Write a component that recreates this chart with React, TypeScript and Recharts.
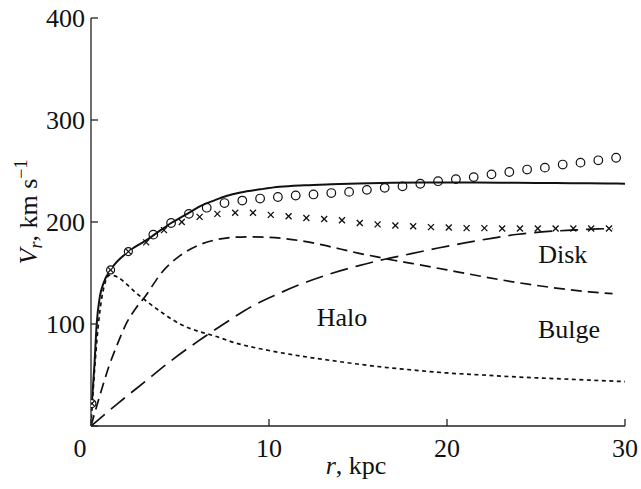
import React from 'react';
import { ComposedChart, Line, Scatter, XAxis, YAxis, ReferenceDot } from 'recharts';

// total model curve (solid)
const totalR = [0.05, 0.2, 0.32, 0.5, 0.7, 1.1, 2.1, 3.1, 4, 4.5, 5, 5.6, 6.2, 6.9, 7.6, 8.4, 9.5, 10.6, 12, 13.5, 15, 17, 19, 21, 23, 25, 27, 29, 30];
const totalV = [22, 62, 100, 127, 140, 153, 171, 182, 193, 199, 204, 210, 216, 221, 225.5, 229, 232, 234.5, 236, 237, 237.8, 238.5, 238.8, 238.8, 238.6, 238.3, 238, 237.8, 237.6];

// halo (long dash)
const haloR = [0, 1.5, 3, 4.5, 6, 7.5, 9, 10.5, 12, 13.5, 15, 16.5, 18, 19.5, 21, 22.5, 24, 25.5, 27, 28.5, 29.3];
const haloV = [0, 22, 43, 64, 83, 100.5, 117, 129.5, 140.5, 149.5, 157, 163.5, 169, 174.5, 179.5, 184, 188, 190.5, 192, 193.2, 193.6];

// disk (medium dash)
const diskR = [0, 0.5, 1, 1.5, 2, 2.5, 3, 4, 5, 6, 7, 8, 9, 10, 11, 12, 13, 14, 15, 16, 17, 18, 20, 22, 24, 26, 28, 29.3];
const diskV = [0, 30, 58, 81, 101, 115, 126, 151, 167, 177, 182.5, 185, 185.5, 185, 183.5, 181, 177.5, 173.5, 169.5, 166, 162.5, 159.5, 153, 146.5, 140.5, 135.5, 131.5, 129.8];

// bulge (short dash)
const bulgeR = [0, 0.2, 0.4, 0.6, 0.8, 1.05, 1.5, 2, 2.5, 3, 4, 5, 6, 7, 8, 10, 12, 14, 16, 18, 20, 22, 24, 26, 28, 30];
const bulgeV = [0, 55, 97, 125, 141, 148, 146, 139, 131, 124, 111, 100, 93, 88, 82, 74, 68, 63, 58.5, 55, 52, 50, 48, 46.5, 45, 43.5];

// observed points
const circR = [3.5, 4.5, 5.5, 6.5, 7.5, 8.5, 9.5, 10.5, 11.5, 12.5, 13.5, 14.5, 15.5, 16.5, 17.5, 18.5, 19.5, 20.5, 21.5, 22.5, 23.5, 24.5, 25.5, 26.5, 27.5, 28.5, 29.5];
const circV = [187.6, 199, 208, 214, 218.6, 221, 223, 224.5, 226, 227, 228.4, 229.5, 231.5, 233.5, 235, 237.5, 240, 242, 244, 246.7, 249, 251.4, 253.3, 256.3, 258.2, 260.5, 263];

const crossR = [3.1, 4.1, 5.1, 6.1, 7.1, 8.1, 9.1, 10.1, 11.1, 12.1, 13.1, 14.1, 15.1, 16.1, 17.1, 18.1, 19.1, 20.1, 21.1, 22.1, 23.1, 24.1, 25.1, 26.1, 27.1, 28.1, 29.1];
const crossV = [180, 192, 200, 205, 208, 209, 209, 207, 205.6, 204, 203, 201.7, 199, 197.7, 196.5, 195.8, 195, 194.6, 194, 194, 193.6, 193.6, 193.6, 193.6, 193.6, 193.6, 193.6];

const bothR = [0.05, 1.1, 2.1];
const bothV = [22, 153, 171];

const xTicks = [0, 10, 20, 30];
const yTicks = [0, 100, 200, 300, 400];

const zip = (rs: number[], vs: number[]) => rs.map((r, i) => ({ r, v: vs[i] }));

const INK = '#111';
const AX = '#222';
const FONT = "'Liberation Serif', 'DejaVu Serif', 'Times New Roman', serif";
const TICK = 7;

const OpenCircle = (p: any) => (
  <circle cx={p.cx} cy={p.cy} r={4.3} fill="none" stroke={INK} strokeWidth={1.2} />
);
const Cross = (p: any) => (
  <g stroke={INK} strokeWidth={1.3}>
    <line x1={p.cx - 3} y1={p.cy - 3} x2={p.cx + 3} y2={p.cy + 3} />
    <line x1={p.cx - 3} y1={p.cy + 3} x2={p.cx + 3} y2={p.cy - 3} />
  </g>
);
const CircleCross = (p: any) => (
  <g stroke={INK} strokeWidth={1.2} fill="none">
    <circle cx={p.cx} cy={p.cy} r={4} fill="#fff" />
    <line x1={p.cx - 2.8} y1={p.cy - 2.8} x2={p.cx + 2.8} y2={p.cy + 2.8} />
    <line x1={p.cx - 2.8} y1={p.cy + 2.8} x2={p.cx + 2.8} y2={p.cy - 2.8} />
  </g>
);

// ticks point inward; labels drawn next to them
const BOTTOM_GAP = 13;
const LEFT_GAP = 6;
const BottomTick = (p: any) => {
  const axisY = p.y - BOTTOM_GAP;
  const v = p.payload.value;
  return (
    <g>
      <line x1={p.x} y1={axisY} x2={p.x} y2={axisY - TICK} stroke={AX} strokeWidth={1.3} />
      <text x={p.x + (v === 0 ? -11 : 0)} y={p.y} dy="0.71em" textAnchor="middle" fontSize={26} fill={INK} style={{ fontFamily: FONT }}>
        {v}
      </text>
    </g>
  );
};
const LeftTick = (p: any) => {
  const axisX = p.x + LEFT_GAP;
  const v = p.payload.value;
  return (
    <g>
      <line x1={axisX} y1={p.y} x2={axisX + TICK} y2={p.y} stroke={AX} strokeWidth={1.3} />
      {v !== 0 && (
        <text x={p.x} y={p.y} dy="0.35em" textAnchor="end" fontSize={26} fill={INK} style={{ fontFamily: FONT }}>
          {v}
        </text>
      )}
    </g>
  );
};
const TopTick = (p: any) => (
  <line x1={p.x} y1={p.y} x2={p.x} y2={p.y + TICK} stroke={AX} strokeWidth={1.3} />
);
const RightTick = (p: any) => (
  <line x1={p.x} y1={p.y} x2={p.x - TICK} y2={p.y} stroke={AX} strokeWidth={1.3} />
);

const YLabel = () => (
  <text x={37} y={212} transform="rotate(-90, 37, 212)" textAnchor="middle" style={{ fontFamily: FONT }} fontSize={26} fill={INK}>
    <tspan fontStyle="italic">V</tspan>
    <tspan fontStyle="italic" fontSize={18} dy={5}>r</tspan>
    <tspan dy={-5}>, km s</tspan>
    <tspan fontSize={18} dy={-10}>−1</tspan>
  </text>
);

const XLabel = () => (
  <text x={356} y={474} textAnchor="middle" style={{ fontFamily: FONT }} fontSize={26} fill={INK}>
    <tspan fontStyle="italic">r</tspan>
    <tspan>, kpc</tspan>
  </text>
);

const axisLine = { stroke: AX, strokeWidth: 1.3 };

const textLabel = (value: string) => ({
  value,
  position: 'center' as const,
  fontSize: 26,
  fill: INK,
  style: { fontFamily: FONT },
});

export default function App() {
  return (
    <div style={{ position: 'absolute', left: 0, top: 0, background: '#fff', fontFamily: FONT }}>
      <ComposedChart width={641} height={489} margin={{ top: 18, right: 16, bottom: 33, left: 0 }}>
        <XAxis
          xAxisId="b"
          dataKey="r"
          type="number"
          domain={[0, 30]}
          ticks={xTicks}
          allowDataOverflow
          height={30}
          tick={<BottomTick />}
          tickSize={0}
          tickMargin={BOTTOM_GAP}
          tickLine={false}
          axisLine={axisLine}
          label={{ content: <XLabel /> }}
        />
        <XAxis
          xAxisId="t"
          orientation="top"
          dataKey="r"
          type="number"
          domain={[0, 30]}
          ticks={xTicks}
          height={0}
          tick={<TopTick />}
          tickSize={0}
          tickMargin={0}
          tickLine={false}
          axisLine={axisLine}
        />
        <YAxis
          yAxisId="l"
          dataKey="v"
          type="number"
          domain={[0, 400]}
          ticks={yTicks}
          width={91}
          tick={<LeftTick />}
          tickSize={0}
          tickMargin={LEFT_GAP}
          tickLine={false}
          axisLine={axisLine}
          label={{ content: <YLabel /> }}
        />
        <YAxis
          yAxisId="rt"
          orientation="right"
          dataKey="v"
          type="number"
          domain={[0, 400]}
          ticks={yTicks}
          width={0}
          tick={<RightTick />}
          tickSize={0}
          tickMargin={0}
          tickLine={false}
          axisLine={axisLine}
        />

        <Line xAxisId="b" yAxisId="l" data={zip(haloR, haloV)} dataKey="v" type="monotone" stroke={INK} strokeWidth={1.7} strokeDasharray="18 8" dot={false} isAnimationActive={false} />
        <Line xAxisId="b" yAxisId="l" data={zip(diskR, diskV)} dataKey="v" type="monotone" stroke={INK} strokeWidth={1.7} strokeDasharray="11 6" dot={false} isAnimationActive={false} />
        <Line xAxisId="b" yAxisId="l" data={zip(bulgeR, bulgeV)} dataKey="v" type="monotone" stroke={INK} strokeWidth={1.7} strokeDasharray="4 3.5" dot={false} isAnimationActive={false} />
        <Line xAxisId="b" yAxisId="l" data={zip(totalR, totalV)} dataKey="v" type="monotone" stroke={INK} strokeWidth={2} dot={false} isAnimationActive={false} />

        <Scatter xAxisId="b" yAxisId="l" data={zip(circR, circV)} dataKey="v" shape={OpenCircle} isAnimationActive={false} />
        <Scatter xAxisId="b" yAxisId="l" data={zip(crossR, crossV)} dataKey="v" shape={Cross} isAnimationActive={false} />
        <Scatter xAxisId="b" yAxisId="l" data={zip(bothR, bothV)} dataKey="v" shape={CircleCross} isAnimationActive={false} />

        <ReferenceDot xAxisId="b" yAxisId="l" x={14.1} y={107.5} r={0} stroke="none" label={textLabel('Halo')} />
        <ReferenceDot xAxisId="b" yAxisId="l" x={26.5} y={169.3} r={0} stroke="none" label={textLabel('Disk')} />
        <ReferenceDot xAxisId="b" yAxisId="l" x={26.85} y={95.8} r={0} stroke="none" label={textLabel('Bulge')} />
      </ComposedChart>
    </div>
  );
}
